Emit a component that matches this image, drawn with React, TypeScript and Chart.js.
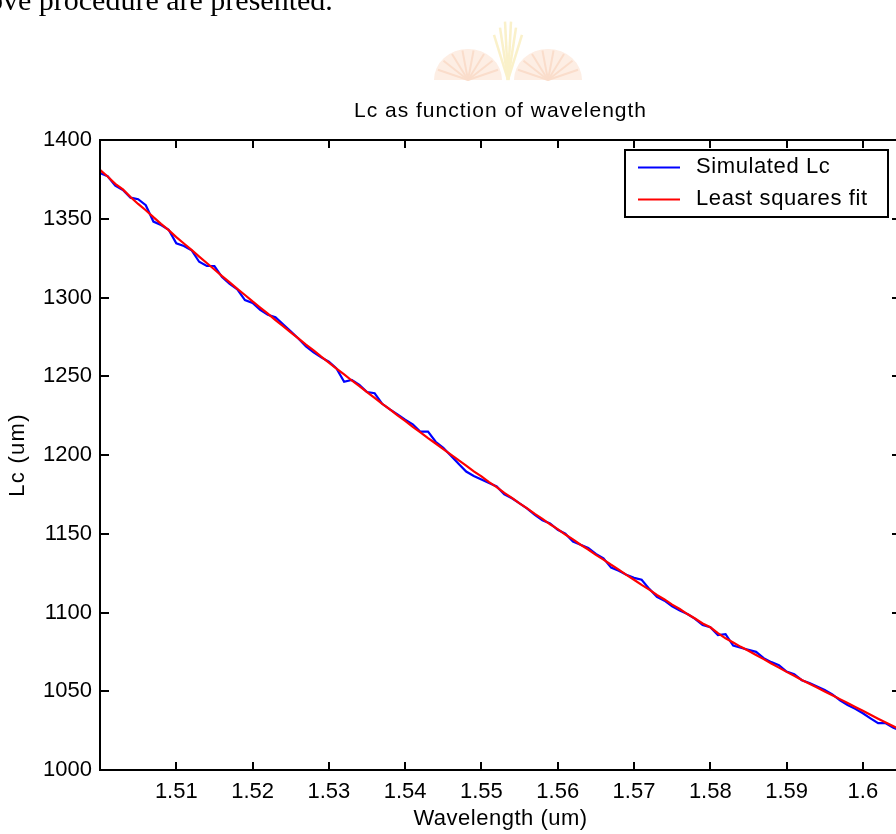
import React, { useEffect, useRef } from "react";
import { Chart, registerables } from "chart.js";

Chart.register(...registerables);

// ---------- data ----------
const wavelengths = [
  1.500, 1.501, 1.502, 1.503, 1.504, 1.505, 1.506, 1.507, 1.508, 1.509,
  1.510, 1.511, 1.512, 1.513, 1.514, 1.515, 1.516, 1.517, 1.518, 1.519,
  1.520, 1.521, 1.522, 1.523, 1.524, 1.525, 1.526, 1.527, 1.528, 1.529,
  1.530, 1.531, 1.532, 1.533, 1.534, 1.535, 1.536, 1.537, 1.538, 1.539,
  1.540, 1.541, 1.542, 1.543, 1.544, 1.545, 1.546, 1.547, 1.548, 1.549,
  1.550, 1.551, 1.552, 1.553, 1.554, 1.555, 1.556, 1.557, 1.558, 1.559,
  1.560, 1.561, 1.562, 1.563, 1.564, 1.565, 1.566, 1.567, 1.568, 1.569,
  1.570, 1.571, 1.572, 1.573, 1.574, 1.575, 1.576, 1.577, 1.578, 1.579,
  1.580, 1.581, 1.582, 1.583, 1.584, 1.585, 1.586, 1.587, 1.588, 1.589,
  1.590, 1.591, 1.592, 1.593, 1.594, 1.595, 1.596, 1.597, 1.598, 1.599,
  1.600, 1.601, 1.602, 1.603, 1.604, 1.605,
];

const simulatedLc = [
  1379, 1377, 1371, 1368.3, 1363.4, 1362.4, 1358.6, 1348.2, 1346, 1343,
  1334.4, 1332.7, 1330, 1322.7, 1320, 1320, 1313, 1308.6, 1305.2, 1298.4,
  1296.5, 1292.2, 1289, 1287.4, 1283, 1278.5, 1274, 1269, 1265.2, 1262,
  1259.2, 1255, 1246.5, 1247.6, 1244.5, 1240, 1239.2, 1232.5, 1229, 1225.8,
  1222.5, 1219.5, 1214.8, 1214.8, 1208.4, 1204.5, 1199.5, 1194.5, 1189.5, 1186.7,
  1184.5, 1182.3, 1180, 1175, 1172.5, 1169.3, 1166, 1162, 1158.5, 1156.5,
  1152.5, 1150, 1145, 1143, 1141, 1137.2, 1134.4, 1128.5, 1126.5, 1124,
  1122, 1120.8, 1115, 1110, 1107.5, 1104, 1101.3, 1099, 1096, 1092,
  1090.6, 1085.7, 1086.2, 1079, 1077.6, 1076.3, 1075, 1071, 1068.5, 1066.5,
  1062.5, 1060.8, 1057, 1055.2, 1053, 1050.8, 1048, 1044.3, 1041.3, 1038.8,
  1036, 1032.8, 1029.7, 1029.7, 1026.8, 1025,
];

const fitLc = [
  1381, 1376.8, 1372.2, 1368.6, 1363.8, 1359.4, 1355.4, 1351, 1346.8, 1342.8,
  1338.3, 1334.3, 1330.2, 1326, 1321.9, 1317.8, 1313.6, 1309.6, 1305.5, 1301.6,
  1297.5, 1293.6, 1289.7, 1285.6, 1281.8, 1277.9, 1274, 1270.1, 1266.4, 1262.4,
  1258.7, 1254.8, 1251.2, 1247.3, 1243.7, 1239.9, 1236.2, 1232.4, 1228.9, 1225.1,
  1221.6, 1217.9, 1214.4, 1210.7, 1207.3, 1203.7, 1200.3, 1196.7, 1193.3, 1189.6,
  1186.4, 1182.8, 1179.6, 1176, 1172.8, 1169.3, 1166.1, 1162.6, 1159.5, 1156,
  1152.9, 1149.5, 1146.4, 1143, 1140, 1136.6, 1133.6, 1130.3, 1127.2, 1123.9,
  1120.8, 1117.5, 1114.5, 1111.1, 1108.3, 1105, 1102.2, 1099, 1096.2, 1093,
  1090.6, 1086.9, 1083.6, 1081, 1078.2, 1075.7, 1073, 1070.4, 1067.6, 1065,
  1062.3, 1059.8, 1057.1, 1054.8, 1052.4, 1049.9, 1047.4, 1045, 1042.5, 1040,
  1037.6, 1035.1, 1032.6, 1030.2, 1027.8, 1025.4,
];

const seriesNames = ["Simulated Lc", "Least squares fit"];
const seriesColors = ["#0000ff", "#ff0000"];

const xTickValues = [1.51, 1.52, 1.53, 1.54, 1.55, 1.56, 1.57, 1.58, 1.59, 1.6];
const xTickLabels = ["1.51", "1.52", "1.53", "1.54", "1.55", "1.56", "1.57", "1.58", "1.59", "1.6"];
const yTickValues = [1000, 1050, 1100, 1150, 1200, 1250, 1300, 1350, 1400];
const yTickLabels = ["1000", "1050", "1100", "1150", "1200", "1250", "1300", "1350", "1400"];

const chartTitle = "Lc as function of wavelength";
const xAxisTitle = "Wavelength (um)";
const yAxisTitle = "Lc (um)";
const pageText = "ove procedure are presented.";

const FONT = '"Liberation Sans", Arial, Helvetica, sans-serif';

const framePlugin = {
  id: "matlabFrame",
  afterDraw(chart: any) {
    const { ctx, chartArea: a, scales } = chart;
    const xs = scales.x;
    const ys = scales.y;
    ctx.save();
    ctx.strokeStyle = "#000";
    ctx.lineWidth = 2;
    ctx.strokeRect(a.left, a.top, a.right - a.left, a.bottom - a.top);

    ctx.beginPath();
    xs.ticks.forEach((t: any) => {
      const p = Math.round(xs.getPixelForValue(t.value));
      ctx.moveTo(p, a.bottom);
      ctx.lineTo(p, a.bottom - 8);
      ctx.moveTo(p, a.top);
      ctx.lineTo(p, a.top + 8);
    });
    ys.ticks.forEach((t: any) => {
      const p = Math.round(ys.getPixelForValue(t.value));
      ctx.moveTo(a.left, p);
      ctx.lineTo(a.left + 9, p);
      ctx.moveTo(a.right, p);
      ctx.lineTo(a.right - 9, p);
    });
    ctx.stroke();

    ctx.fillStyle = "#000";
    ctx.textBaseline = "middle";
    ctx.textAlign = "center";

    // title
    ctx.font = `21px ${FONT}`;
    (ctx as any).letterSpacing = "1px";
    ctx.fillText(chartTitle, (a.left + a.right) / 2, a.top - 29);

    // x-axis title
    ctx.font = `22px ${FONT}`;
    (ctx as any).letterSpacing = "0.5px";
    ctx.fillText(xAxisTitle, (a.left + a.right) / 2, a.bottom + 49);

    // y-axis title
    ctx.save();
    ctx.translate(18, (a.top + a.bottom) / 2);
    ctx.rotate(-Math.PI / 2);
    (ctx as any).letterSpacing = "1.3px";
    ctx.fillText(yAxisTitle, 0, 0);
    ctx.restore();

    // legend
    const bw = 263;
    const bh = 67;
    const bx = a.right - 276;
    const by = a.top + 10;
    ctx.fillStyle = "#fff";
    ctx.fillRect(bx, by, bw, bh);
    ctx.strokeStyle = "#000";
    ctx.lineWidth = 2;
    ctx.strokeRect(bx, by, bw, bh);
    const rows = [by + 17.5, by + 49.5];
    chart.data.datasets.forEach((ds: any, i: number) => {
      const yy = rows[i];
      ctx.strokeStyle = ds.borderColor;
      ctx.lineWidth = 2;
      ctx.beginPath();
      ctx.moveTo(bx + 13, yy);
      ctx.lineTo(bx + 55, yy);
      ctx.stroke();
      ctx.fillStyle = "#000";
      ctx.textAlign = "left";
      ctx.font = `22px ${FONT}`;
      (ctx as any).letterSpacing = "0.6px";
      ctx.fillText(ds.label, bx + 71, yy - 1);
    });
    ctx.restore();
  },
};

function Logo() {
  const ridges = [-70, -50, -30, -10, 10, 30, 50, 70];
  return (
    <svg
      width={896}
      height={120}
      style={{ position: "absolute", left: 0, top: 0, pointerEvents: "none" }}
    >
      <g opacity={0.75}>
        <path d="M 434 80 A 34 31 0 0 1 502 80 Z" fill="#fde8db" />
        <path d="M 514 80 A 34 31 0 0 1 582 80 Z" fill="#fde8db" />
        {ridges.map((d, i) => {
          const r = (d * Math.PI) / 180;
          return (
            <g key={i}>
              <line x1={468} y1={80} x2={468 + 32 * Math.sin(r)} y2={80 - 30 * Math.cos(r)} stroke="#f8d2ba" strokeWidth={2} />
              <line x1={548} y1={80} x2={548 + 32 * Math.sin(r)} y2={80 - 30 * Math.cos(r)} stroke="#f8d2ba" strokeWidth={2} />
            </g>
          );
        })}
        {[-14, -8, -3, 3, 8, 14].map((dx, i) => (
          <line key={i} x1={508} y1={80} x2={508 + dx} y2={18 + Math.abs(dx) * 1.2} stroke="#f9ecb8" strokeWidth={2.5} />
        ))}
      </g>
    </svg>
  );
}

export default function App() {
  const canvasRef = useRef<HTMLCanvasElement | null>(null);

  useEffect(() => {
    const canvas = canvasRef.current;
    if (!canvas) return;
    const chart = new Chart(canvas, {
      type: "line",
      data: {
        datasets: [
          {
            label: seriesNames[0],
            data: wavelengths.map((x, i) => ({ x, y: simulatedLc[i] })),
            borderColor: seriesColors[0],
            backgroundColor: seriesColors[0],
            borderWidth: 2.2,
            pointRadius: 0,
            tension: 0,
            fill: false,
            order: 2,
          },
          {
            label: seriesNames[1],
            data: wavelengths.map((x, i) => ({ x, y: fitLc[i] })),
            borderColor: seriesColors[1],
            backgroundColor: seriesColors[1],
            borderWidth: 2.2,
            pointRadius: 0,
            tension: 0,
            fill: false,
            order: 1,
          },
        ],
      },
      options: {
        animation: false,
        responsive: false,
        maintainAspectRatio: false,
        events: [],
        layout: { padding: { top: 140, left: 0, right: 9, bottom: 0 } },
        plugins: {
          legend: { display: false },
          title: { display: false },
          tooltip: { enabled: false },
        },
        scales: {
          x: {
            type: "linear",
            min: 1.5,
            max: 1.605,
            grid: { display: false, drawTicks: false },
            border: { display: false },
            afterBuildTicks: (s: any) => {
              s.ticks = xTickValues.map((v) => ({ value: v }));
            },
            afterFit: (s: any) => {
              s.height = 64;
            },
            ticks: {
              color: "#000",
              font: { family: FONT, size: 22 },
              padding: 9,
              maxRotation: 0,
              autoSkip: false,
              callback: (_v: any, i: number) => xTickLabels[i],
            },
          },
          y: {
            type: "linear",
            min: 1000,
            max: 1400,
            grid: { display: false, drawTicks: false },
            border: { display: false },
            afterBuildTicks: (s: any) => {
              s.ticks = yTickValues.map((v) => ({ value: v }));
            },
            afterFit: (s: any) => {
              s.width = 100;
            },
            ticks: {
              color: "#000",
              font: { family: FONT, size: 22 },
              padding: 8,
              autoSkip: false,
              callback: (_v: any, i: number) => yTickLabels[i],
            },
          },
        },
      },
      plugins: [framePlugin],
    });
    return () => chart.destroy();
  }, []);

  return (
    <div
      style={{
        position: "fixed",
        left: 0,
        top: 0,
        width: 896,
        height: 834,
        overflow: "hidden",
        background: "#fff",
      }}
    >
      <canvas
        ref={canvasRef}
        width={910}
        height={834}
        style={{ position: "absolute", left: 0, top: 0, width: 910, height: 834 }}
      />
      <Logo />
      <div
        style={{
          position: "absolute",
          left: -12,
          top: -15,
          font: '30px "Liberation Serif", "Times New Roman", serif',
          lineHeight: "30px",
          whiteSpace: "nowrap",
          color: "#000",
        }}
      >
        {pageText}
      </div>
    </div>
  );
}
